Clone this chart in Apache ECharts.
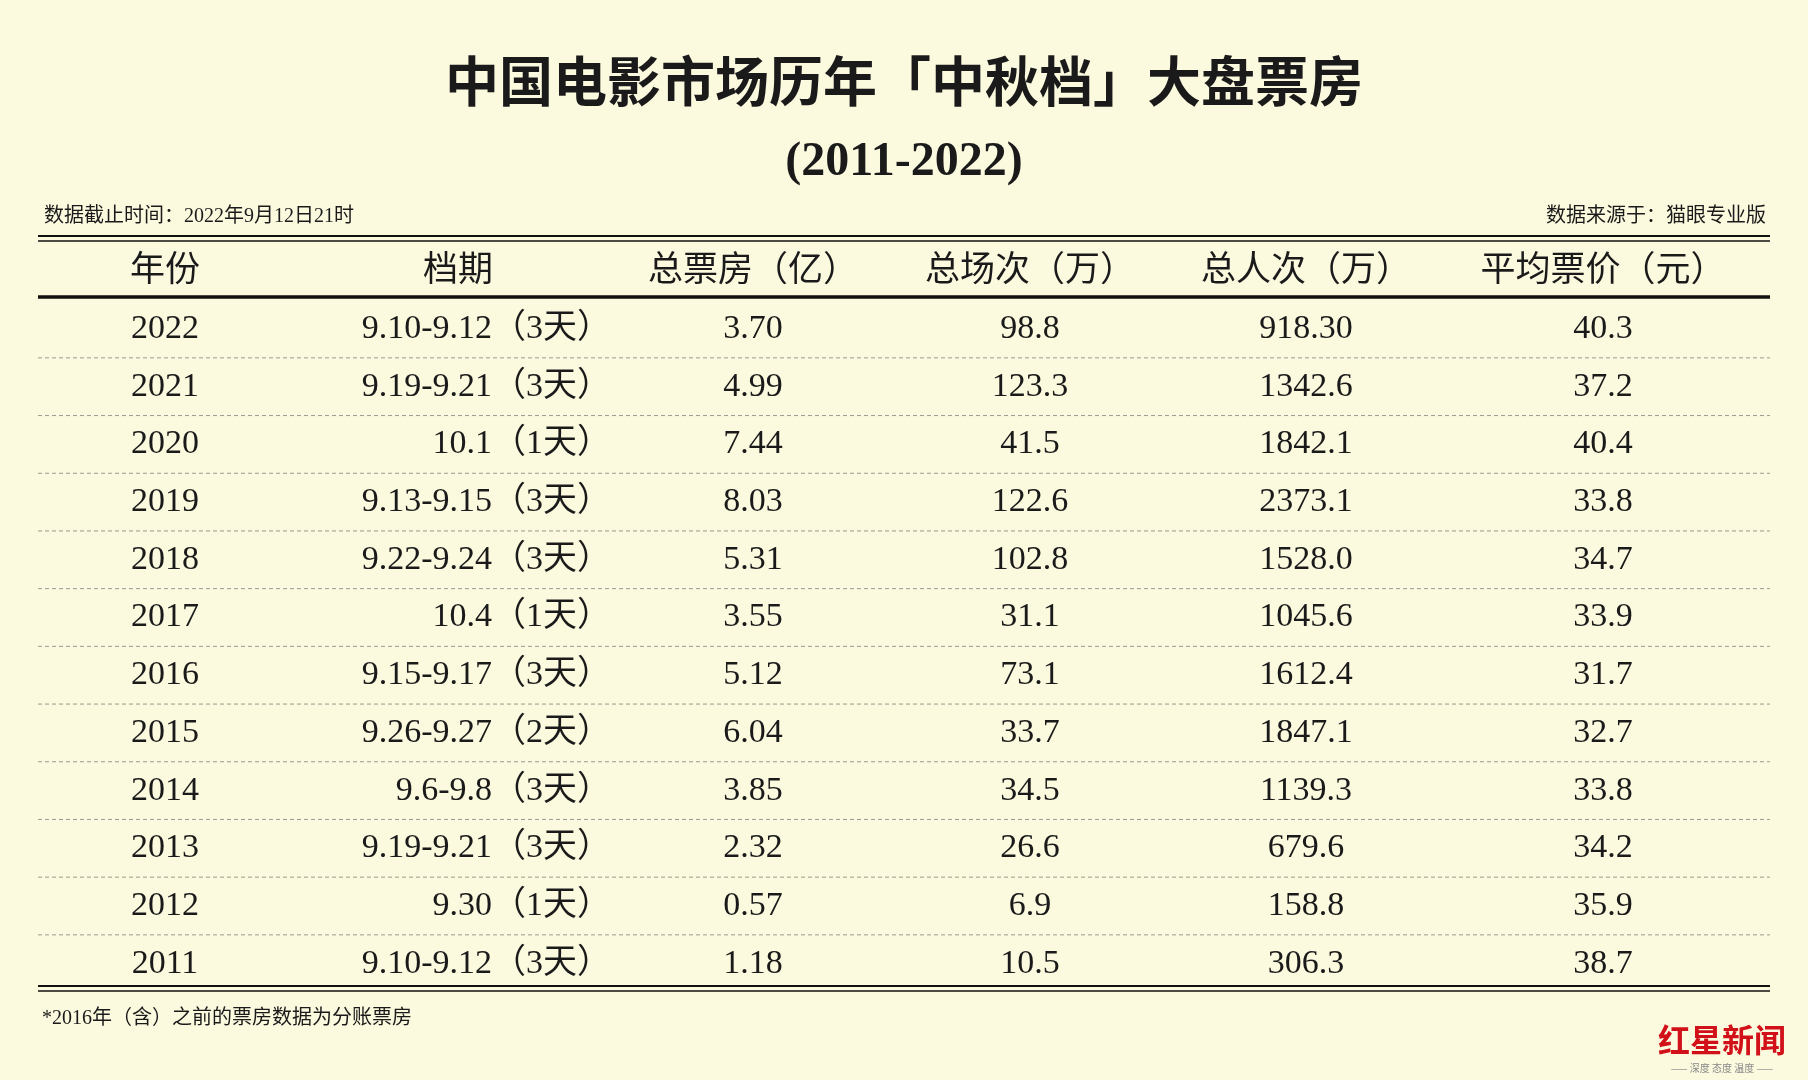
<!DOCTYPE html>
<html><head><meta charset="utf-8">
<script src="https://cdn.jsdelivr.net/npm/echarts@6/dist/echarts.min.js"></script>
<style>html,body{margin:0;padding:0;background:#fbf9de}#main{width:1808px;height:1080px}</style>
</head><body><div id="main"></div>
<script>
// 表格数据
const headers = ['年份', '档期', '总票房（亿）', '总场次（万）', '总人次（万）', '平均票价（元）'];
const years = ['2022','2021','2020','2019','2018','2017','2016','2015','2014','2013','2012','2011'];
const periods = ['9.10-9.12（3天）','9.19-9.21（3天）','10.1（1天）','9.13-9.15（3天）','9.22-9.24（3天）','10.4（1天）','9.15-9.17（3天）','9.26-9.27（2天）','9.6-9.8（3天）','9.19-9.21（3天）','9.30（1天）','9.10-9.12（3天）'];
const boxOffice = ['3.70','4.99','7.44','8.03','5.31','3.55','5.12','6.04','3.85','2.32','0.57','1.18'];
const shows = ['98.8','123.3','41.5','122.6','102.8','31.1','73.1','33.7','34.5','26.6','6.9','10.5'];
const admissions = ['918.30','1342.6','1842.1','2373.1','1528.0','1045.6','1612.4','1847.1','1139.3','679.6','158.8','306.3'];
const avgPrice = ['40.3','37.2','40.4','33.8','34.7','33.9','31.7','32.7','33.8','34.2','35.9','38.7'];

const font = '"Liberation Serif","Noto Sans CJK SC",serif';
const W = 1808, L = 38, R = 1770;
const colX = [165, 458, 753, 1030, 1306, 1603];
const rowY0 = 329, rowH = 57.7;

const g = [];
function txt(x, y, s, size, opt) {
  g.push({type:'text', x, y, style:Object.assign({text:s, fontSize:size, fontFamily:font, fill:'#1a1a1a', align:'center', verticalAlign:'middle'}, opt||{})});
}
function line(y, w, dash) {
  g.push({type:'line', shape:{x1:L,y1:y,x2:R,y2:y}, style:{stroke: dash?'#9a9a90':'#111', lineWidth:w, lineDash: dash?[4,3]:null}});
}
txt(W/2, 88, '中国电影市场历年「中秋档」大盘票房', 54, {fontWeight:'bold'});
txt(W/2, 163, '(2011-2022)', 48, {fontWeight:'bold'});
txt(44, 217, '数据截止时间：2022年9月12日21时', 20, {align:'left'});
txt(1766, 217, '数据来源于：猫眼专业版', 20, {align:'right'});
line(236, 2); line(241, 1.5);
headers.forEach((h, i) => txt(colX[i], 272, h, 35));
line(297, 3.5);
years.forEach((y, r) => {
  const cy = rowY0 + r * rowH;
  txt(colX[0], cy, y, 34);
  txt(611, cy, periods[r], 34, {align:'right'});
  txt(colX[2], cy, boxOffice[r], 34);
  txt(colX[3], cy, shows[r], 34);
  txt(colX[4], cy, admissions[r], 34);
  txt(colX[5], cy, avgPrice[r], 34);
  if (r < years.length - 1) line(cy + rowH / 2, 1, true);
});
line(986, 2); line(991, 1.5);
txt(42, 1019, '*2016年（含）之前的票房数据为分账票房', 20, {align:'left'});
txt(1722, 1040, '红星新闻', 32, {fill:'#d2101a', fontWeight:'bold', fontFamily:'"Noto Sans CJK SC"'});
txt(1722, 1068, '—— 深度 态度 温度 ——', 10, {fill:'#888', fontFamily:'"Noto Sans CJK SC"'});

const chart = echarts.init(document.getElementById('main'));
chart.setOption({backgroundColor:'#fbf9de', graphic:g});
</script></body></html>
